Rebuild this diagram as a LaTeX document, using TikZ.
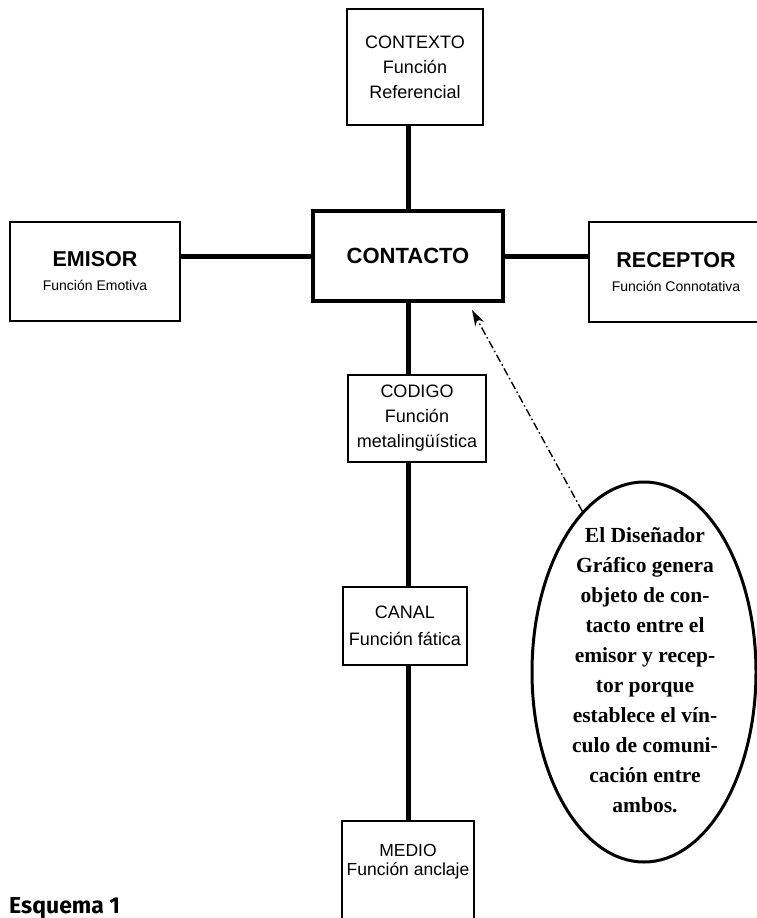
\documentclass[tikz,border=0pt]{standalone}
\usepackage{fontspec}
\setmainfont{Liberation Sans}
\newfontfamily\notafont{Liberation Serif}
\newfontfamily\esqfont{Fira Sans}
\usetikzlibrary{arrows.meta, shapes.geometric}

\begin{document}
\begin{tikzpicture}[
      x=1pt, y=-1pt,
      box/.style={rectangle, draw, line width=1.6pt, fill=white, inner sep=0pt, align=center},
      big/.style={font=\fontsize{18}{25}\selectfont},
      side/.style={font=\fontsize{14}{24}\selectfont},
      link/.style={line width=5pt},
      pointer/.style={line width=1.4pt, dash pattern=on 8pt off 3pt on 1.5pt off 3pt, -{Stealth[length=16pt, width=10pt]}},
      nota/.style={ellipse, draw, line width=3pt, minimum width=224pt, minimum height=380pt, inner sep=0pt}
    ]
    \useasboundingbox (0,0) rectangle (757,918);

    \node[box, big, minimum width=136pt, minimum height=116pt] (contexto) at (415,67) {CONTEXTO\\Función\\Referencial};
    \node[box, line width=4pt, minimum width=190pt, minimum height=90pt, font=\fontsize{22}{26}\selectfont\bfseries] (contacto) at (408,256) {CONTACTO};
    \node[box, side, minimum width=170pt, minimum height=99pt] (emisor) at (95,271.5) {{\fontsize{21.5}{24}\selectfont\bfseries EMISOR}\\Función Emotiva};
    \node[box, side, minimum width=174pt, minimum height=100pt] (receptor) at (676,272) {{\fontsize{21.5}{24}\selectfont\bfseries RECEPTOR}\\Función Connotativa};
    \node[box, big, minimum width=138pt, minimum height=87pt] (codigo) at (417,418.5) {CODIGO\\Función\\metalingüística};
    \node[box, minimum width=124pt, minimum height=78pt, font=\fontsize{18}{27}\selectfont] (canal) at (405,626) {CANAL\\Función fática};
    \node[box, minimum width=132pt, minimum height=114pt, font=\fontsize{17.5}{19}\selectfont] (medio) at (408,878) {MEDIO\\Función anclaje\\[17pt]\mbox{}};

    \draw[link] (contacto.north) -- (contacto.north |- contexto.south);
    \draw[link] (contacto.west) -- (contacto.west -| emisor.east);
    \draw[link] (contacto.east) -- (contacto.east -| receptor.west);
    \draw[link] (contacto.south) -- (contacto.south |- codigo.north);
    \draw[link] (codigo.south -| contacto.south) -- (canal.north -| contacto.south);
    \draw[link] (canal.south -| contacto.south) -- (medio.north -| contacto.south);

    % nota del disenador
    \node[nota] (nota) at (644,672) {};
    \node[align=center, inner sep=0pt, font=\notafont\bfseries\fontsize{21.5}{30}\selectfont] (notatxt) at (645,670) {El Diseñador\\Gráfico genera\\objeto de con-\\tacto entre el\\emisor y recep-\\tor porque\\establece el vín-\\culo de comuni-\\cación entre\\ambos.};
    \coordinate (punta) at (472,310);
    \draw[pointer] (nota.111) -- (punta);

    \node[anchor=base west, inner sep=0pt, font=\esqfont\bfseries\fontsize{23}{23}\selectfont] (esquema) at (9,913) {Esquema 1};

\end{tikzpicture}
\end{document}
